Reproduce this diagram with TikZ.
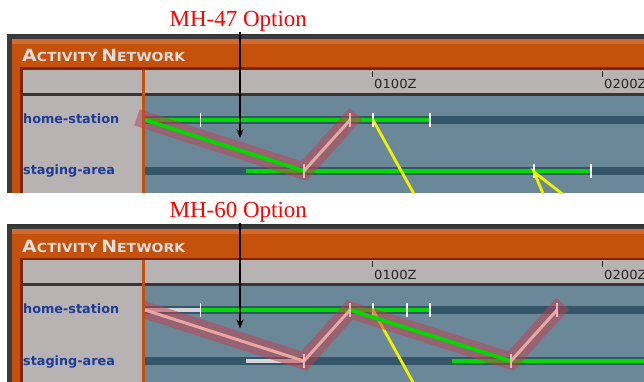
\documentclass[tikz,border=0pt]{standalone}
\usepackage{fontspec}
\setmainfont{Liberation Serif}
\newfontfamily\uifont{DejaVu Sans}
\usetikzlibrary{arrows.meta}
\definecolor{orangeui}{HTML}{C6510B}
\definecolor{framedark}{HTML}{3A3A3A}
\definecolor{darkredui}{HTML}{7E2408}
\definecolor{panelgray}{HTML}{B8B3B3}
\definecolor{headline}{HTML}{3C3434}
\definecolor{bodyblue}{HTML}{6B8899}
\definecolor{trackblue}{HTML}{34566B}
\definecolor{barGreen}{HTML}{00DA00}
\definecolor{bandred}{HTML}{C0404F}
\definecolor{pinkline}{HTML}{E8A8A0}
\definecolor{pinktick}{HTML}{F2B4B0}
\definecolor{lightbar}{HTML}{D6D6D6}
\definecolor{yellowline}{HTML}{F2F000}
\definecolor{labelblue}{HTML}{1E3C96}
\definecolor{titlegray}{HTML}{E2DEDC}
\tikzset{
  greenbar/.style={draw=barGreen, line width=3.8pt},
  lightgraybar/.style={draw=lightbar, line width=3.4pt},
  tickmark/.style={draw=white, line width=1.8pt},
  pinktickmark/.style={draw=pinktick, line width=1.8pt},
  band/.style={draw=bandred, draw opacity=0.52, line width=17pt, line join=miter, line cap=rect},
  pinkbar/.style={draw=pinkline, line width=3pt},
  yellowbar/.style={draw=yellowline, line width=2.8pt},
  callout/.style={text=red, font=\fontsize{23}{26}\selectfont, inner sep=0pt},
  calloutarrow/.style={draw=black, line width=1.4pt, -{Stealth[length=9pt,width=7pt,inset=3pt]}},
  rowlabel/.style={text=labelblue, font=\uifont\bfseries\fontsize{12.8}{14}\selectfont, inner sep=0pt, anchor=base west},
  timelabel/.style={text=black!85, font=\uifont\fontsize{12.5}{14}\selectfont, inner sep=0pt, anchor=base west},
  titletext/.style={text=titlegray, font=\uifont\bfseries, inner sep=0pt, anchor=base west},
}
\newcommand\bigsc[1]{{\fontsize{16.8}{18}\selectfont #1}}
\newcommand\smallsc[1]{{\fontsize{12.5}{14}\selectfont #1}}
\newcommand\activityframe[1]{%
  \fill[framedark] (7,34) rectangle (644,193);
  \fill[black!80] (7,34) rectangle (644,35.5);
  \fill[orangeui] (12,39) rectangle (644,193);
  \fill[orangeui!85!white] (12,39) rectangle (644,44);
  \fill[darkredui] (20,67.5) rectangle (644,193);
  \fill[panelgray] (23,70) rectangle (644,93);
  \fill[headline] (23,93) rectangle (644,96);
  \fill[panelgray] (23,96) rectangle (142,193);
  \fill[bodyblue] (144,96) rectangle (644,193);
  \fill[orangeui] (142,70) rectangle (144.5,193);
  \node[titletext] (title#1) at (22,62) {\scalebox{1.12}[1]{\bigsc{A}\smallsc{CTIVITY} \bigsc{N}\smallsc{ETWORK}}};
  \draw[black!85, line width=1pt] (372,71) -- (372,77);
  \draw[black!85, line width=1pt] (602,71) -- (602,77);
  \node[timelabel] (t1#1) at (374,89) {\scalebox{1.05}[1]{0100Z}};
  \node[timelabel] (t2#1) at (604,89) {\scalebox{1.05}[1]{0200Z}};
  \fill[trackblue] (145,116) rectangle (644,124);
  \fill[trackblue] (145,167) rectangle (644,175);
  \node[rowlabel] (home#1) at (23,123.5) {home-station};
  \node[rowlabel] (stag#1) at (23,175) {staging-area};
}
\begin{document}
\begin{tikzpicture}[x=1pt,y=-1pt]
\useasboundingbox (0,0) rectangle (644,382);
\fill[white] (0,0) rectangle (644,382);
% ---------- Panel 1: MH-47 ----------
\begin{scope}
  \clip (7,34) rectangle (644,193.5);
  \activityframe{A}
  \coordinate (a0) at (145,120);
  \coordinate (a1) at (304,171);
  \coordinate (a2) at (350,120);
  \coordinate (ay) at (373,120);
  \coordinate (ayend) at (419,203);
  \coordinate (az) at (534,172);
  \coordinate (azl) at (544,196);
  \coordinate (azr) at (565,196);
  \draw[greenbar] (145,120) -- (430,120);
  \draw[greenbar] (246,171) -- (591,171);
  \foreach \x in {200.5,373,430} \draw[tickmark] (\x,113) -- (\x,127);
  \foreach \x in {534,591} \draw[tickmark] (\x,164) -- (\x,178);
  \draw[band] (a0) -- (a1) -- (a2);
  \draw[greenbar] (a0) -- (a1);
  \draw[pinkbar] (a1) -- (a2);
  \draw[pinktickmark] (350,113) -- (350,127);
  \draw[pinktickmark] (304,164) -- (304,178);
  \draw[yellowbar] (ay) -- (ayend);
  \draw[yellowbar, line cap=round] (azl) -- (az) -- (azr);
\end{scope}
\node[callout, anchor=base] (mh47) at (238.3,27) {MH-47 Option};
\coordinate (tip47) at (240,138);
\draw[calloutarrow] (mh47.south -| tip47) -- (tip47);
% ---------- Panel 2: MH-60 ----------
\begin{scope}[shift={(0,190)}]
  \begin{scope}
  \clip (7,34) rectangle (644,193);
  \activityframe{B}
  \coordinate (b0) at (145,120);
  \coordinate (b1) at (304,171);
  \coordinate (b2) at (350,120);
  \coordinate (b3) at (511,171);
  \coordinate (b4) at (557,120);
  \coordinate (by) at (373,120);
  \coordinate (byend) at (419,203);
  \draw[lightgraybar] (145,120) -- (200.5,120);
  \draw[greenbar] (200.5,120) -- (430,120);
  \draw[lightgraybar] (246,171) -- (304,171);
  \draw[greenbar] (452,171) -- (644,171);
  \foreach \x in {200.5,373,407,430} \draw[tickmark] (\x,113) -- (\x,127);
  \draw[yellowbar] (by) -- (byend);
  \begin{scope}
    \clip (144.5,96) rectangle (644,193);
    \draw[band] (b0) -- (b1) -- (b2) -- (b3) -- (b4);
  \end{scope}
  \draw[pinkbar] (b0) -- (b1) -- (b2);
  \draw[greenbar] (b2) -- (b3);
  \draw[pinkbar] (b3) -- (b4);
  \foreach \p in {(350,120),(557,120)} \draw[pinktickmark] \p ++(0,-7) -- ++(0,14);
  \foreach \p in {(304,171),(511,171)} \draw[pinktickmark] \p ++(0,-7) -- ++(0,14);
  \end{scope}
  \node[callout, anchor=base] (mh60) at (238.3,27.5) {MH-60 Option};
  \coordinate (tip60) at (240,138.5);
  \draw[calloutarrow] (mh60.south -| tip60) -- (tip60);
\end{scope}
\end{tikzpicture}
\end{document}
